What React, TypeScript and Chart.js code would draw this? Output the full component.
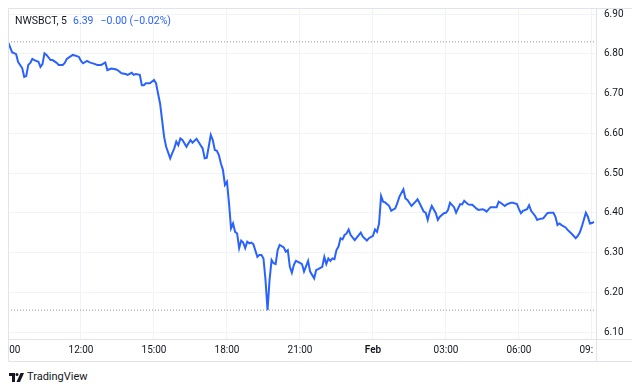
import React, { useEffect, useRef } from "react";
import { Chart, registerables } from "chart.js";

Chart.register(...registerables);

// minutes after 09:00 (31 Jan), 5-minute bars
const times = [
  0, 10, 20, 25, 35, 40, 45, 50, 55, 60, 65, 75, 80, 85, 90, 95, 105, 110, 120, 125,
  135, 140, 145, 155, 160, 170, 175, 180, 185, 195, 200, 205, 215, 220, 230, 240, 245, 255, 265, 270,
  280, 290, 295, 305, 310, 315, 325, 330, 335, 340, 350, 360, 365, 370, 375, 380, 385, 390, 400, 405,
  410, 415, 420, 425, 430, 435, 440, 450, 455, 465, 475, 480, 485, 490, 495, 500, 505, 510, 515, 520,
  525, 530, 535, 540, 545, 550, 555, 560, 565, 570, 575, 580, 585, 590, 595, 600, 605, 615, 620, 625,
  630, 635, 640, 645, 650, 655, 660, 665, 670, 680, 685, 690, 695, 700, 705, 710, 720, 725, 730, 740,
  745, 755, 760, 765, 775, 780, 785, 790, 795, 800, 805, 810, 815, 820, 825, 830, 835, 840, 845, 855,
  865, 870, 875, 885, 890, 900, 905, 910, 915, 920, 925, 930, 940, 945, 955, 960, 965, 975, 980, 985,
  995, 1005, 1010, 1015, 1025, 1030, 1035, 1040, 1045, 1055, 1060, 1065, 1075, 1080, 1085, 1090, 1100, 1105, 1110, 1115,
  1120, 1125, 1135, 1140, 1145, 1155, 1160, 1170, 1175, 1180, 1190, 1195, 1205, 1210, 1215, 1225, 1230, 1240, 1245, 1255,
  1260, 1265, 1270, 1280, 1285, 1290, 1300, 1305, 1310, 1320, 1330, 1335, 1345, 1350, 1355, 1360, 1365, 1375, 1380, 1390,
  1400, 1405, 1410, 1415, 1425, 1430, 1435, 1440, 1445,
];

const prices = [
  6.830, 6.804, 6.799, 6.779, 6.764, 6.742, 6.744, 6.772, 6.777, 6.787, 6.784, 6.780, 6.767, 6.774, 6.801, 6.797, 6.784, 6.784, 6.777, 6.772,
  6.772, 6.777, 6.787, 6.794, 6.797, 6.794, 6.792, 6.782, 6.776, 6.782, 6.779, 6.777, 6.774, 6.772, 6.772, 6.778, 6.759, 6.763, 6.761, 6.759,
  6.751, 6.749, 6.747, 6.752, 6.747, 6.749, 6.747, 6.721, 6.721, 6.726, 6.726, 6.734, 6.726, 6.700, 6.675, 6.633, 6.591, 6.566, 6.537, 6.550,
  6.562, 6.579, 6.570, 6.587, 6.583, 6.575, 6.566, 6.583, 6.576, 6.586, 6.570, 6.562, 6.537, 6.538, 6.566, 6.596, 6.583, 6.558, 6.556, 6.545,
  6.524, 6.508, 6.470, 6.478, 6.424, 6.361, 6.373, 6.352, 6.348, 6.311, 6.330, 6.325, 6.311, 6.327, 6.323, 6.325, 6.321, 6.289, 6.294, 6.294,
  6.285, 6.231, 6.155, 6.231, 6.281, 6.273, 6.271, 6.306, 6.319, 6.313, 6.302, 6.306, 6.264, 6.249, 6.269, 6.279, 6.274, 6.271, 6.252, 6.279,
  6.252, 6.235, 6.256, 6.258, 6.264, 6.289, 6.271, 6.285, 6.279, 6.285, 6.283, 6.306, 6.315, 6.336, 6.333, 6.344, 6.348, 6.358, 6.344, 6.331,
  6.344, 6.350, 6.340, 6.330, 6.336, 6.342, 6.358, 6.352, 6.373, 6.442, 6.428, 6.426, 6.417, 6.405, 6.411, 6.424, 6.440, 6.459, 6.436, 6.432,
  6.417, 6.428, 6.434, 6.424, 6.403, 6.400, 6.382, 6.403, 6.417, 6.399, 6.382, 6.390, 6.399, 6.400, 6.407, 6.425, 6.414, 6.400, 6.411, 6.422,
  6.421, 6.430, 6.421, 6.420, 6.420, 6.411, 6.407, 6.409, 6.407, 6.403, 6.414, 6.414, 6.414, 6.428, 6.425, 6.417, 6.421, 6.425, 6.425, 6.422,
  6.409, 6.399, 6.405, 6.409, 6.419, 6.405, 6.392, 6.382, 6.384, 6.386, 6.399, 6.400, 6.400, 6.390, 6.369, 6.373, 6.369, 6.363, 6.357, 6.347,
  6.336, 6.342, 6.350, 6.365, 6.400, 6.390, 6.373, 6.374, 6.377,
];

const xTickMinutes = [0, 180, 360, 540, 720, 900, 1080, 1260, 1440];
const xTickLabels = ["09:00", "12:00", "15:00", "18:00", "21:00", "Feb", "03:00", "06:00", "09:00"];
const yTicks = [6.1, 6.2, 6.3, 6.4, 6.5, 6.6, 6.7, 6.8, 6.9];

const sessionHigh = 6.83;
const sessionLow = 6.155;

const symbolText = "NWSBCT, 5";
const lastPriceText = "6.39";
const changeText = "\u22120.00 (\u22120.02%)";

const FONT = "Roboto, 'Noto Sans', sans-serif";
const TEXT = "#131722";
const BLUE = "#2962ff";
const FRAME = "#e0e3eb";
const GRID = "#f0f3fa";

const W = 625;
const H = 355;

const framePlugin = {
  id: "tvFrame",
  afterDraw(chart: any) {
    const ctx = chart.ctx;
    const area = chart.chartArea;
    const xs = chart.scales.x;
    const ys = chart.scales.y;
    ctx.save();
    // price labels
    ctx.fillStyle = TEXT;
    ctx.font = `10px ${FONT}`;
    ctx.textAlign = "left";
    ctx.textBaseline = "middle";
    yTicks.forEach((v) => {
      ctx.fillText(v.toFixed(2), area.right + 8, ys.getPixelForValue(v));
    });
    // time labels (clipped to plot width)
    ctx.save();
    ctx.beginPath();
    ctx.rect(0, area.bottom, area.right - 3, H - area.bottom);
    ctx.clip();
    ctx.textAlign = "center";
    const ly = area.bottom + 11;
    xTickMinutes.forEach((m, i) => {
      const label = xTickLabels[i];
      ctx.font = label === "Feb" ? `600 10px ${FONT}` : `10px ${FONT}`;
      ctx.fillText(label, xs.getPixelForValue(m), ly);
    });
    ctx.restore();
    // frame
    ctx.strokeStyle = FRAME;
    ctx.lineWidth = 1;
    const fb = H - 1.5;
    ctx.beginPath();
    ctx.moveTo(0.5, 0.5);
    ctx.lineTo(W - 0.5, 0.5);
    ctx.lineTo(W - 0.5, fb);
    ctx.lineTo(0.5, fb);
    ctx.closePath();
    ctx.moveTo(0, area.bottom + 0.5);
    ctx.lineTo(W, area.bottom + 0.5);
    ctx.moveTo(area.right + 0.5, 0);
    ctx.lineTo(area.right + 0.5, fb);
    ctx.stroke();
    ctx.restore();
  },
};

export default function App() {
  const ref = useRef<HTMLCanvasElement | null>(null);

  useEffect(() => {
    if (!ref.current) return;
    const chart = new Chart(ref.current, {
      type: "line",
      data: {
        datasets: [
          {
            data: times.map((t, i) => ({ x: t, y: prices[i] })),
            borderColor: BLUE,
            borderWidth: 2,
            pointRadius: 0,
            tension: 0,
            order: 0,
          },
          {
            data: [
              { x: 0, y: sessionHigh },
              { x: 1450, y: sessionHigh },
            ],
            borderColor: "#9598a1",
            borderWidth: 1,
            borderDash: [1, 2],
            pointRadius: 0,
            order: 1,
          },
          {
            data: [
              { x: 0, y: sessionLow },
              { x: 1450, y: sessionLow },
            ],
            borderColor: "#9598a1",
            borderWidth: 1,
            borderDash: [1, 2],
            pointRadius: 0,
            order: 1,
          },
        ],
      },
      options: {
        animation: false,
        responsive: false,
        events: [],
        layout: { padding: 0 },
        plugins: { legend: { display: false }, tooltip: { enabled: false } },
        scales: {
          x: {
            type: "linear",
            min: 0,
            max: 1450,
            grid: { color: GRID, drawTicks: false },
            border: { display: false },
            ticks: { display: false },
            afterBuildTicks: (s: any) => {
              s.ticks = xTickMinutes.map((v) => ({ value: v }));
            },
            afterFit: (s: any) => {
              s.height = 24;
            },
          },
          y: {
            position: "right",
            min: 6.0824,
            max: 6.9151,
            grid: { color: GRID, drawTicks: false },
            border: { display: false },
            ticks: { display: false },
            afterBuildTicks: (s: any) => {
              s.ticks = yTicks.map((v) => ({ value: v }));
            },
            afterFit: (s: any) => {
              s.width = 37;
            },
          },
        },
      },
      plugins: [framePlugin],
    } as any);
    return () => chart.destroy();
  }, []);

  return (
    <div style={{ position: "relative", width: W, height: 383, fontFamily: FONT }}>
      <canvas ref={ref} width={W} height={H} style={{ display: "block", width: W, height: H }} />
      <div
        style={{
          position: "absolute",
          left: 7,
          top: 6,
          fontSize: 10.5,
          lineHeight: "14px",
          whiteSpace: "nowrap",
          color: TEXT,
        }}
      >
        <span>{symbolText}</span>
        <span style={{ color: BLUE, marginLeft: 6 }}>{lastPriceText}</span>
        <span style={{ color: BLUE, marginLeft: 7 }}>{changeText}</span>
      </div>
      <div
        style={{
          position: "absolute",
          left: 1,
          top: 362,
          display: "flex",
          alignItems: "center",
          color: TEXT,
          fontSize: 11,
          lineHeight: "14px",
        }}
      >
        <svg width="15" height="9" viewBox="0 0 15 9" style={{ display: "block" }}>
          <path d="M0 0h6v9H3V3H0z" fill={TEXT} />
          <circle cx="8" cy="1.5" r="1.5" fill={TEXT} />
          <path d="M11.5 0h3.5l-4 9H7.5z" fill={TEXT} />
        </svg>
        <span style={{ marginLeft: 3 }}>TradingView</span>
      </div>
    </div>
  );
}
